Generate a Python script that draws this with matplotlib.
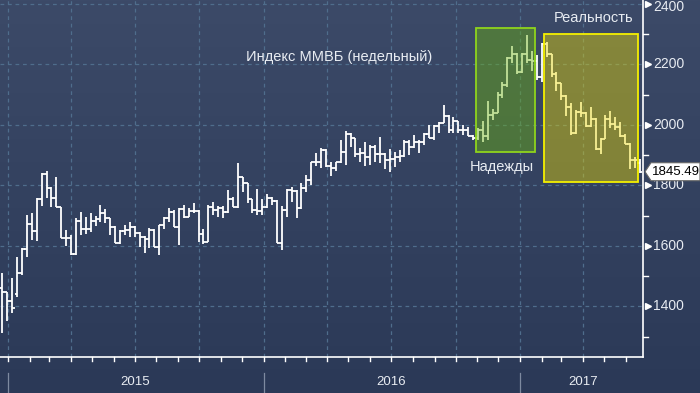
import numpy as np
import pandas as pd
import matplotlib
matplotlib.use("Agg")
import matplotlib.pyplot as plt
import matplotlib.dates as mdates
from matplotlib.patches import Rectangle, Polygon
from matplotlib.transforms import blended_transform_factory

# ---------------- data (weekly OHLC, MICEX index) ----------------
opens = [1462, 1447, 1417, 1440, 1512, 1590, 1672, 1650, 1754, 1838,
         1793, 1758, 1728, 1625, 1627, 1572, 1683, 1655, 1656, 1683,
         1689, 1708, 1691, 1664, 1609, 1651, 1653, 1662, 1642, 1631,
         1622, 1652, 1596, 1668, 1692, 1711, 1662, 1721, 1697, 1717,
         1717, 1640, 1614, 1730, 1719, 1724, 1711, 1755, 1728, 1827,
         1807, 1754, 1719, 1717, 1728, 1760, 1750, 1609, 1719, 1785,
         1783, 1724, 1791, 1818, 1879, 1876, 1917, 1864, 1857, 1876,
         1910, 1970, 1956, 1904, 1906, 1895, 1928, 1904, 1903, 1884,
         1886, 1895, 1897, 1945, 1926, 1945, 1945, 1969, 1956, 1997,
         2008, 2030, 1983, 2012, 1983, 1983, 1964, 1958, 1983, 1964,
         2032, 2040, 2098, 2132, 2220, 2234, 2175, 2235, 2216, 2210,
         2160, 2268, 2234, 2167, 2138, 2096, 2058, 1972, 2044, 2041,
         1997, 2021, 1919, 1955, 2019, 2003, 1994, 1964, 1937, 1884,
         1873]
highs = [1510, 1449, 1493, 1565, 1592, 1702, 1708, 1758, 1840, 1849,
         1796, 1827, 1728, 1653, 1636, 1691, 1713, 1697, 1710, 1699,
         1735, 1721, 1693, 1666, 1653, 1669, 1680, 1666, 1647, 1633,
         1658, 1655, 1669, 1697, 1727, 1719, 1724, 1735, 1724, 1741,
         1719, 1655, 1735, 1746, 1732, 1732, 1785, 1763, 1873, 1829,
         1809, 1756, 1787, 1754, 1771, 1762, 1752, 1732, 1787, 1796,
         1785, 1809, 1835, 1879, 1908, 1923, 1919, 1879, 1879, 1950,
         1981, 1972, 1958, 1923, 1942, 1934, 1934, 1961, 1906, 1920,
         1912, 1917, 1950, 1950, 1967, 1950, 1972, 1999, 1999, 2011,
         2066, 2032, 2025, 2014, 2000, 1994, 1966, 1990, 2012, 2078,
         2052, 2110, 2143, 2224, 2260, 2237, 2237, 2298, 2246, 2230,
         2271, 2275, 2236, 2176, 2140, 2099, 2074, 2050, 2077, 2043,
         2058, 2023, 1956, 2033, 2047, 2025, 2010, 1969, 1939, 1895,
         1886]
lows = [1311, 1353, 1379, 1432, 1504, 1565, 1620, 1617, 1732, 1758,
        1730, 1728, 1625, 1600, 1570, 1570, 1636, 1640, 1647, 1666,
        1680, 1675, 1636, 1609, 1607, 1636, 1631, 1629, 1598, 1576,
        1592, 1596, 1570, 1656, 1678, 1662, 1603, 1691, 1695, 1708,
        1614, 1605, 1612, 1702, 1697, 1691, 1708, 1728, 1726, 1780,
        1741, 1708, 1701, 1702, 1726, 1735, 1609, 1587, 1697, 1746,
        1691, 1722, 1780, 1802, 1864, 1857, 1860, 1831, 1849, 1873,
        1868, 1926, 1895, 1879, 1864, 1868, 1879, 1873, 1853, 1846,
        1862, 1879, 1895, 1901, 1923, 1906, 1934, 1956, 1950, 1972,
        2005, 1975, 1975, 1975, 1967, 1964, 1951, 1950, 1945, 1950,
        2015, 2038, 2088, 2127, 2205, 2168, 2173, 2205, 2178, 2150,
        2142, 2225, 2160, 2112, 2083, 2030, 1967, 1970, 2027, 1994,
        1994, 1917, 1904, 1953, 1989, 1983, 1961, 1937, 1853, 1857,
        1840]
closes = [1447, 1417, 1395, 1512, 1590, 1672, 1650, 1754, 1838, 1793,
          1758, 1728, 1625, 1627, 1572, 1683, 1655, 1656, 1683, 1689,
          1708, 1691, 1664, 1609, 1651, 1653, 1662, 1642, 1631, 1622,
          1652, 1596, 1668, 1692, 1711, 1662, 1721, 1697, 1717, 1717,
          1640, 1614, 1730, 1719, 1724, 1711, 1755, 1728, 1827, 1807,
          1754, 1719, 1717, 1728, 1760, 1750, 1609, 1719, 1785, 1783,
          1724, 1791, 1818, 1879, 1876, 1917, 1864, 1857, 1876, 1910,
          1970, 1956, 1904, 1906, 1895, 1928, 1904, 1903, 1884, 1886,
          1895, 1897, 1945, 1926, 1945, 1945, 1969, 1956, 1997, 2008,
          2030, 1983, 2012, 1983, 1983, 1964, 1958, 1983, 1964, 2032,
          2040, 2098, 2132, 2220, 2234, 2175, 2235, 2216, 2210, 2160,
          2268, 2234, 2167, 2138, 2096, 2058, 1972, 2044, 2041, 1997,
          2021, 1919, 1955, 2019, 2003, 1994, 1964, 1937, 1884, 1884,
          1845.49]
dates = pd.date_range("2014-12-24", periods=len(closes), freq="7D")

y_major = [1400, 1600, 1800, 2000, 2200, 2400]
y_minor = [1300, 1500, 1700, 1900, 2100, 2300]
year_labels = ["2015", "2016", "2017"]
year_starts = ["2015-01-01", "2016-01-01", "2017-01-01"]
year_label_pos = ["2015-07-02", "2016-07-01", "2017-04-01"]
last_value = 1845.49

title_text = "Индекс ММВБ (недельный)"
hope_text = "Надежды"
real_text = "Реальность"
hope_box = ("2016-10-30", "2017-01-23", 1912, 2320)
real_box = ("2017-02-04", "2017-06-18", 1812, 2301)

# ---------------- figure ----------------
W, H = 700, 393
fig = plt.figure(figsize=(W / 100, H / 100), dpi=100)

bg = fig.add_axes([0, 0, 1, 1])
grad = np.linspace(0, 1, 256)[:, None]
top = np.array([60, 74, 104]) / 255
bot = np.array([43, 57, 87]) / 255
img = top[None, None, :] * (1 - grad[:, :, None]) + bot[None, None, :] * grad[:, :, None]
bg.imshow(img, aspect="auto", extent=[0, 1, 0, 1])
bg.set_axis_off()

ax_right_px, ax_bottom_px = 643, 357
ax = fig.add_axes([0, (H - ax_bottom_px) / H, ax_right_px / W, ax_bottom_px / H])
ax.patch.set_alpha(0)
ax.set_ylim(1233, 2413)
x_jan15 = mdates.date2num(pd.Timestamp("2015-01-01"))
ppd = 512 / 731.0
ax.set_xlim(x_jan15 - 8 / ppd, x_jan15 + (ax_right_px - 8) / ppd)
for s in ["top", "left"]:
    ax.spines[s].set_visible(False)
for s in ["right", "bottom"]:
    ax.spines[s].set_color("white")
    ax.spines[s].set_linewidth(1.2)
ax.set_xticks([])
ax.set_yticks([])

grid_c = "#4f6d8c"
for v in y_major:
    ax.axhline(v, color=grid_c, lw=0.9, ls=(0, (3, 3)), zorder=1)
for q in pd.date_range("2015-01-01", "2017-04-01", freq="QS"):
    ax.axvline(mdates.date2num(q), color=grid_c, lw=0.9, ls=(0, (3, 3)), zorder=1)

# OHLC bars
dn = mdates.date2num(dates)
tick = 2.5 / ppd
ax.vlines(dn, lows, highs, color="white", lw=1.3, zorder=3)
ax.hlines(opens, dn - tick, dn, color="white", lw=1.3, zorder=3)
ax.hlines(closes, dn, dn + tick, color="white", lw=1.3, zorder=3)

# highlight boxes
def box(spec, face, alpha, edge):
    x1 = mdates.date2num(pd.Timestamp(spec[0]))
    x2 = mdates.date2num(pd.Timestamp(spec[1]))
    ax.add_patch(Rectangle((x1, spec[2]), x2 - x1, spec[3] - spec[2],
                           facecolor=face, alpha=alpha, edgecolor="none", zorder=4))
    ax.add_patch(Rectangle((x1, spec[2]), x2 - x1, spec[3] - spec[2],
                           fill=False, edgecolor=edge, lw=1.3, zorder=5))

box(hope_box, "#6eb80a", 0.42, "#8fd41c")
box(real_box, "#eedd00", 0.42, "#f5f000")

# right axis ticks and labels
tr = blended_transform_factory(ax.transAxes, ax.transData)
val_per_px = (2413 - 1233) / ax_bottom_px
for v in y_minor:
    ax.plot([1, 1 + 5 / ax_right_px], [v, v], color="white", lw=1, transform=tr, clip_on=False)
for v in y_major:
    ax.plot([1 + 5 / ax_right_px], [v], marker=">", ms=4.5, color="white", mec="white",
            transform=tr, clip_on=False)
    ty = v - 3.5 * val_per_px if v == max(y_major) else v
    ax.text(1 + 10 / ax_right_px, ty, str(v), transform=tr, ha="left", va="center",
            color="#e8ecf2", fontsize=10, family="Liberation Sans", clip_on=False)

# bottom month ticks
trx = blended_transform_factory(ax.transData, ax.transAxes)
for m in pd.date_range("2015-01-01", "2017-06-01", freq="MS"):
    xm = mdates.date2num(m)
    ax.plot([xm, xm], [0, -4 / ax_bottom_px], color="white", lw=1, transform=trx, clip_on=False)

# year separators and labels
for ys in year_starts:
    xs = mdates.date2num(pd.Timestamp(ys))
    ax.plot([xs, xs], [-(373 - ax_bottom_px) / ax_bottom_px, -(393 - ax_bottom_px) / ax_bottom_px],
            color="#7e8aa0", lw=0.9, transform=trx, clip_on=False)
for lab, pos in zip(year_labels, year_label_pos):
    ax.text(mdates.date2num(pd.Timestamp(pos)), -(382 - ax_bottom_px) / ax_bottom_px, lab,
            transform=trx, ha="center", va="center", color="#e8ecf2", fontsize=9.5,
            family="Liberation Sans", clip_on=False)

# annotations
def ftext(px, py, s, **kw):
    fig.text(px / W, 1 - py / H, s, ha="center", va="center", color="#e8ecf2",
             family="Liberation Sans", **kw)

ftext(339, 57, title_text, fontsize=10.5)
ftext(502, 167, hope_text, fontsize=10.5)
ftext(594, 18, real_text, fontsize=10.5)

# last value tag
yl = 1 - (2413.2 - last_value) / 3.306 / H
pts = [(645, 0), (651, -9), (700, -9), (700, 9), (651, 9)]
poly = Polygon([(x / W, yl + dy / H) for x, dy in pts], closed=True, transform=fig.transFigure,
               facecolor="white", edgecolor="#666666", lw=0.8, zorder=10)
fig.patches.append(poly)
fig.text(676 / W, yl, f"{last_value:.2f}", ha="center", va="center", color="black",
         fontsize=9.5, family="Liberation Sans", zorder=11)

fig.savefig("out.png", dpi=100)
